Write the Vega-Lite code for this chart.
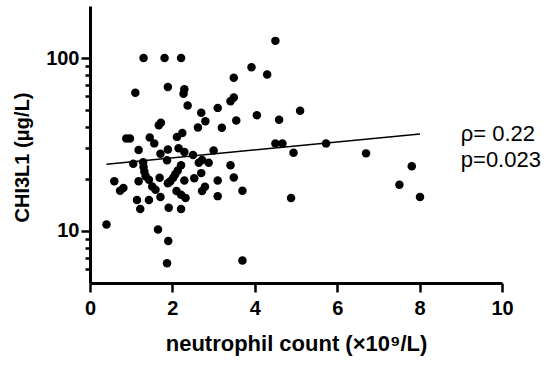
{
  "$schema": "https://vega.github.io/schema/vega-lite/v6.json",
  "width": 412,
  "height": 277,
  "autosize": "none",
  "padding": {"left": 90, "top": 6, "right": 48, "bottom": 86},
  "background": "white",
  "config": {"view": {"stroke": null}, "font": "Liberation Sans"},
  "datasets": {
    "points": [
      {"neutrophil": 1.30, "chi3l1": 100}, {"neutrophil": 1.81, "chi3l1": 100}, {"neutrophil": 2.21, "chi3l1": 100},
      {"neutrophil": 4.50, "chi3l1": 125.7}, {"neutrophil": 3.92, "chi3l1": 88.6}, {"neutrophil": 4.30, "chi3l1": 80.3},
      {"neutrophil": 1.10, "chi3l1": 63.0}, {"neutrophil": 1.89, "chi3l1": 68.0}, {"neutrophil": 2.29, "chi3l1": 65.9},
      {"neutrophil": 2.27, "chi3l1": 62.2}, {"neutrophil": 2.37, "chi3l1": 53.1}, {"neutrophil": 3.49, "chi3l1": 76.9},
      {"neutrophil": 3.49, "chi3l1": 59.1}, {"neutrophil": 3.41, "chi3l1": 56.3}, {"neutrophil": 3.10, "chi3l1": 51.5},
      {"neutrophil": 2.70, "chi3l1": 48.3}, {"neutrophil": 4.05, "chi3l1": 46.7}, {"neutrophil": 4.59, "chi3l1": 44.0},
      {"neutrophil": 3.55, "chi3l1": 43.6}, {"neutrophil": 2.80, "chi3l1": 43.1}, {"neutrophil": 2.62, "chi3l1": 39.6},
      {"neutrophil": 3.20, "chi3l1": 39.5}, {"neutrophil": 1.67, "chi3l1": 40.8}, {"neutrophil": 1.72, "chi3l1": 42.2},
      {"neutrophil": 0.88, "chi3l1": 34.3}, {"neutrophil": 0.97, "chi3l1": 34.3}, {"neutrophil": 1.45, "chi3l1": 34.7},
      {"neutrophil": 1.56, "chi3l1": 32.1}, {"neutrophil": 2.11, "chi3l1": 35.0}, {"neutrophil": 2.24, "chi3l1": 36.8},
      {"neutrophil": 1.18, "chi3l1": 29.4}, {"neutrophil": 1.71, "chi3l1": 28.0}, {"neutrophil": 1.89, "chi3l1": 29.6},
      {"neutrophil": 2.15, "chi3l1": 30.1}, {"neutrophil": 2.29, "chi3l1": 28.6}, {"neutrophil": 2.50, "chi3l1": 27.5},
      {"neutrophil": 3.00, "chi3l1": 29.2}, {"neutrophil": 1.05, "chi3l1": 24.5}, {"neutrophil": 1.29, "chi3l1": 25.0},
      {"neutrophil": 1.30, "chi3l1": 23.4}, {"neutrophil": 1.32, "chi3l1": 22.0}, {"neutrophil": 1.35, "chi3l1": 20.7},
      {"neutrophil": 1.43, "chi3l1": 19.8}, {"neutrophil": 1.87, "chi3l1": 25.6}, {"neutrophil": 2.64, "chi3l1": 24.8},
      {"neutrophil": 2.72, "chi3l1": 25.7}, {"neutrophil": 2.88, "chi3l1": 24.8}, {"neutrophil": 3.41, "chi3l1": 24.0},
      {"neutrophil": 2.21, "chi3l1": 24.0}, {"neutrophil": 2.13, "chi3l1": 22.4}, {"neutrophil": 2.07, "chi3l1": 21.3},
      {"neutrophil": 2.02, "chi3l1": 20.3}, {"neutrophil": 1.95, "chi3l1": 19.4}, {"neutrophil": 1.89, "chi3l1": 18.9},
      {"neutrophil": 1.69, "chi3l1": 20.3}, {"neutrophil": 2.29, "chi3l1": 19.6}, {"neutrophil": 2.53, "chi3l1": 20.2},
      {"neutrophil": 2.70, "chi3l1": 21.6}, {"neutrophil": 3.10, "chi3l1": 19.6}, {"neutrophil": 3.49, "chi3l1": 20.4},
      {"neutrophil": 0.59, "chi3l1": 19.4}, {"neutrophil": 0.81, "chi3l1": 17.7}, {"neutrophil": 0.73, "chi3l1": 17.1},
      {"neutrophil": 1.18, "chi3l1": 19.4}, {"neutrophil": 1.51, "chi3l1": 18.1}, {"neutrophil": 1.59, "chi3l1": 17.3},
      {"neutrophil": 2.72, "chi3l1": 17.0}, {"neutrophil": 2.79, "chi3l1": 18.0}, {"neutrophil": 2.10, "chi3l1": 17.0},
      {"neutrophil": 2.21, "chi3l1": 16.2}, {"neutrophil": 2.32, "chi3l1": 15.5}, {"neutrophil": 3.10, "chi3l1": 15.9},
      {"neutrophil": 3.70, "chi3l1": 17.1}, {"neutrophil": 1.14, "chi3l1": 15.1}, {"neutrophil": 1.43, "chi3l1": 15.1},
      {"neutrophil": 1.71, "chi3l1": 15.7}, {"neutrophil": 1.22, "chi3l1": 13.4}, {"neutrophil": 1.91, "chi3l1": 13.6},
      {"neutrophil": 2.21, "chi3l1": 13.4}, {"neutrophil": 0.40, "chi3l1": 10.9}, {"neutrophil": 1.65, "chi3l1": 10.2},
      {"neutrophil": 1.90, "chi3l1": 8.74}, {"neutrophil": 1.87, "chi3l1": 6.50}, {"neutrophil": 3.70, "chi3l1": 6.75},
      {"neutrophil": 5.10, "chi3l1": 49.6}, {"neutrophil": 4.50, "chi3l1": 32.1}, {"neutrophil": 4.67, "chi3l1": 32.1},
      {"neutrophil": 4.94, "chi3l1": 28.3}, {"neutrophil": 5.73, "chi3l1": 32.1}, {"neutrophil": 6.70, "chi3l1": 28.1},
      {"neutrophil": 7.81, "chi3l1": 23.7}, {"neutrophil": 7.51, "chi3l1": 18.5}, {"neutrophil": 8.01, "chi3l1": 15.7},
      {"neutrophil": 4.88, "chi3l1": 15.5}
    ],
    "fit": [
      {"neutrophil": 0.40, "chi3l1": 24.3},
      {"neutrophil": 8.01, "chi3l1": 36.4}
    ]
  },
  "layer": [
    {
      "data": {"name": "points"},
      "mark": {"type": "circle", "size": 72, "color": "black", "opacity": 1},
      "encoding": {
        "x": {
          "field": "neutrophil", "type": "quantitative",
          "scale": {"domain": [0, 10], "nice": false, "zero": false},
          "axis": {
            "title": "neutrophil count (×10⁹/L)",
            "values": [0, 2, 4, 6, 8, 10],
            "grid": false,
            "domainColor": "black", "domainWidth": 3,
            "tickColor": "black", "tickWidth": 2.5, "tickSize": 9,
            "labelFontSize": 20, "labelFontWeight": "bold", "labelColor": "black", "labelPadding": 6,
            "labelFlush": false,
            "titleFontSize": 22, "titleFontWeight": "bold", "titleColor": "black",
            "titleY": 60, "titleBaseline": "middle"
          }
        },
        "y": {
          "field": "chi3l1", "type": "quantitative",
          "scale": {"type": "log", "domain": [5, 200], "nice": false},
          "axis": {
            "title": "CHI3L1 (μg/L)",
            "values": [6, 7, 8, 9, 10, 20, 30, 40, 50, 60, 70, 80, 90, 100],
            "labelExpr": "datum.value == 10 ? '10' : datum.value == 100 ? '100' : ''",
            "grid": false,
            "domainColor": "black", "domainWidth": 3,
            "tickColor": "black", "tickWidth": 2.5,
            "tickSize": {"condition": {"test": "datum.value == 10 || datum.value == 100", "value": 9}, "value": 5},
            "labelFontSize": 20, "labelFontWeight": "bold", "labelColor": "black", "labelPadding": 2,
            "labelFlush": false,
            "titleFontSize": 20, "titleFontWeight": "bold", "titleColor": "black",
            "titleX": -68, "titleY": 151, "titleAngle": -90, "titleAlign": "center", "titleBaseline": "middle"
          }
        }
      }
    },
    {
      "data": {"name": "fit"},
      "mark": {"type": "line", "color": "black", "strokeWidth": 1.5},
      "encoding": {
        "x": {"field": "neutrophil", "type": "quantitative"},
        "y": {"field": "chi3l1", "type": "quantitative"}
      }
    },
    {
      "data": {"values": [{}]},
      "mark": {"type": "text", "text": ["ρ= 0.22", "p=0.023"], "align": "left", "baseline": "middle", "fontSize": 22, "lineHeight": 26, "color": "black", "font": "Liberation Sans"},
      "encoding": {
        "x": {"datum": 9.0},
        "y": {"datum": 36.4}
      }
    }
  ]
}
